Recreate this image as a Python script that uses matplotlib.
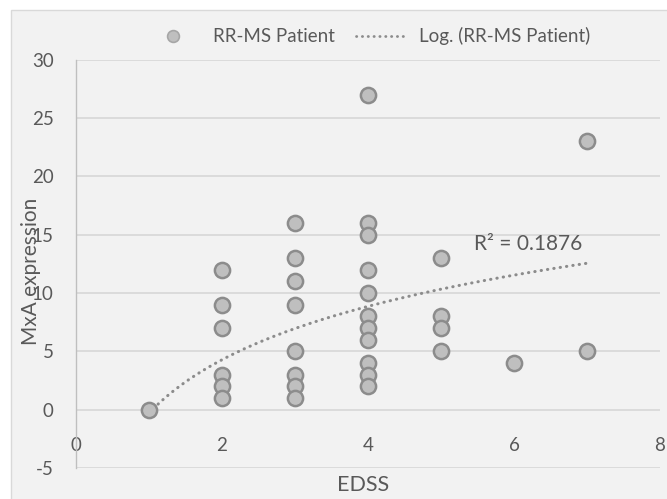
import numpy as np
import matplotlib
matplotlib.use("Agg")
import matplotlib.pyplot as plt
from matplotlib.lines import Line2D
from matplotlib.patches import Rectangle

plt.rcParams['font.family'] = ['Lato', 'DejaVu Sans']
plt.rcParams['axes.unicode_minus'] = False

edss = [1,
        2, 2, 2, 2, 2, 2,
        3, 3, 3, 3, 3, 3, 3, 3,
        4, 4, 4, 4, 4, 4, 4, 4, 4, 4, 4,
        5, 5, 5, 5,
        6,
        7, 7]
mxa = [0,
       12, 9, 7, 3, 2, 1,
       16, 13, 11, 9, 5, 3, 2, 1,
       27, 16, 15, 12, 10, 8, 7, 6, 4, 3, 2,
       13, 8, 7, 5,
       4,
       23, 5]
# logarithmic trendline y = a + b*ln(x), coefficients
trend_a = -0.3
trend_b = 6.6
trend_range = [1, 7]
r2_label = "R² = 0.1876"

x = np.array(edss, float)
y = np.array(mxa, float)
xt = np.linspace(trend_range[0], trend_range[1], 200)
yt = trend_a + trend_b * np.log(xt)

W, H = 667, 499
fig = plt.figure(figsize=(W/100, H/100), dpi=100)
fig.patch.set_facecolor('white')
bg = Rectangle((10.5/W, -0.01), 1, 1 - 10/H + 0.01, transform=fig.transFigure,
               facecolor='#F2F2F2', edgecolor='#D9D9D9', lw=1.0, zorder=-10)
fig.add_artist(bg)

ax = fig.add_axes([76/W, 1 - 468/H, (660-76)/W, (468-59.5)/H])
ax.set_zorder(1)
ax.set_facecolor('#F2F2F2')
ax.set_xlim(0, 8)
ax.set_ylim(-5, 30)
ax.set_xticks([0, 2, 4, 6, 8])
ax.set_yticks(range(-5, 31, 5))
ax.grid(axis='y', color='#D9D9D9', lw=1.3)
ax.set_axisbelow(True)
for s in ['top', 'right', 'bottom']:
    ax.spines[s].set_visible(False)
ax.spines['left'].set_color('#BFBFBF')
ax.spines['left'].set_linewidth(1.0)
ax.spines['bottom'].set_position(('data', 0))
ax.tick_params(axis='both', length=0, labelsize=13.5, colors='#595959')
ax.tick_params(axis='x', pad=20)
ax.tick_params(axis='y', pad=16)

dots = (0, (0.1, 2.0))
ax.plot(xt, yt, color='#8C8C8C', lw=2.2, linestyle=dots,
        dash_capstyle='round', zorder=2)
ax.scatter(x, y, s=120, facecolor='#BFBFBF', edgecolor='#8C8C8C', linewidth=1.8, zorder=3)

ax.text(5.45, 14.2, r2_label, fontsize=15, color='#595959', va='center', ha='left')

fig.text(363/W, 1 - 485/H, 'EDSS', fontsize=15.5, color='#595959', ha='center', va='center')
fig.text(31/W, 1 - 271/H, 'MxA expression', rotation=90, fontsize=15,
         color='#595959', ha='center', va='center', zorder=5)

# legend (drawn manually in figure pixel positions)
ly = 1 - 36/H
fig.add_artist(Line2D([173/W], [ly], marker='o', ls='none', markersize=8.5,
                      markerfacecolor='#BFBFBF', markeredgecolor='#A6A6A6',
                      markeredgewidth=1.2, transform=fig.transFigure))
fig.text(213/W, ly, 'RR-MS Patient', fontsize=13.5, color='#595959', va='center', ha='left')
fig.add_artist(Line2D([356/W, 408/W], [ly, ly], color='#8C8C8C', lw=2.0, linestyle=dots,
                      dash_capstyle='round', transform=fig.transFigure))
fig.text(419/W, ly, 'Log. (RR-MS Patient)', fontsize=13.5, color='#595959', va='center', ha='left')

fig.savefig('out.png', dpi=100, facecolor='white')
